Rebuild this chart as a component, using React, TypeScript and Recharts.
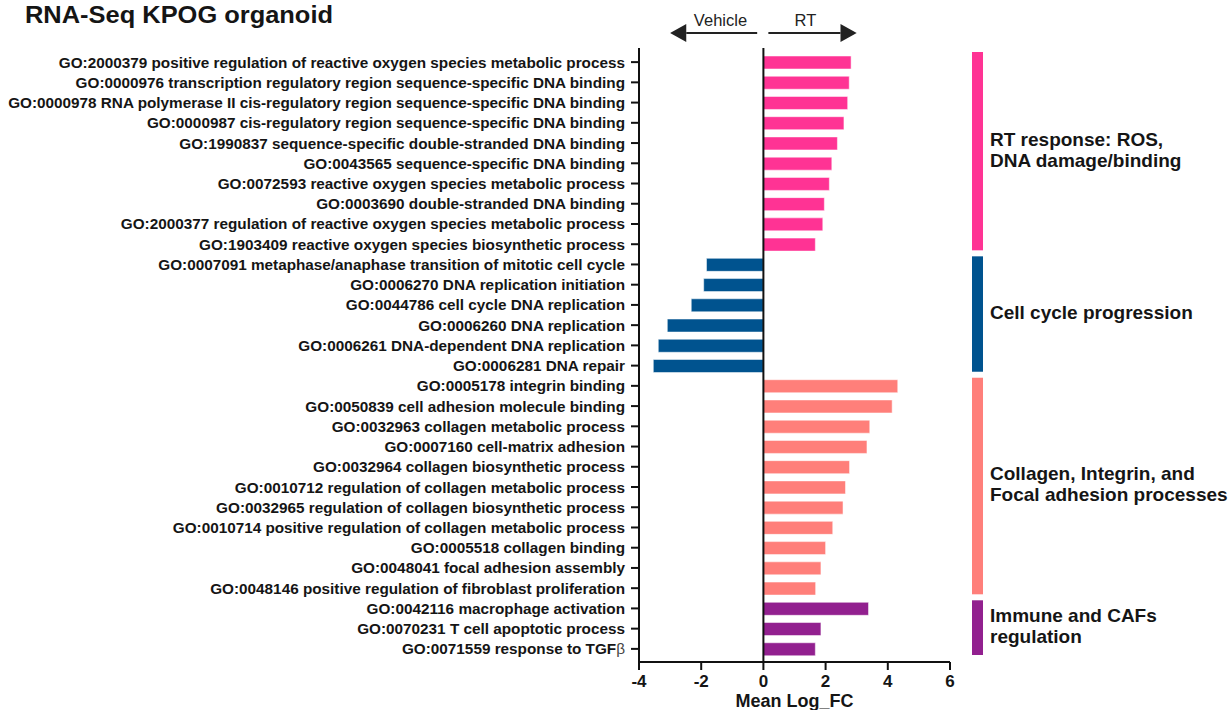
import React from "react";
import { BarChart, Bar, XAxis, YAxis, Cell, ReferenceLine } from "recharts";

const terms = [
  "GO:2000379 positive regulation of reactive oxygen species metabolic process",
  "GO:0000976 transcription regulatory region sequence-specific DNA binding",
  "GO:0000978 RNA polymerase II cis-regulatory region sequence-specific DNA binding",
  "GO:0000987 cis-regulatory region sequence-specific DNA binding",
  "GO:1990837 sequence-specific double-stranded DNA binding",
  "GO:0043565 sequence-specific DNA binding",
  "GO:0072593 reactive oxygen species metabolic process",
  "GO:0003690 double-stranded DNA binding",
  "GO:2000377 regulation of reactive oxygen species metabolic process",
  "GO:1903409 reactive oxygen species biosynthetic process",
  "GO:0007091 metaphase/anaphase transition of mitotic cell cycle",
  "GO:0006270 DNA replication initiation",
  "GO:0044786 cell cycle DNA replication",
  "GO:0006260 DNA replication",
  "GO:0006261 DNA-dependent DNA replication",
  "GO:0006281 DNA repair",
  "GO:0005178 integrin binding",
  "GO:0050839 cell adhesion molecule binding",
  "GO:0032963 collagen metabolic process",
  "GO:0007160 cell-matrix adhesion",
  "GO:0032964 collagen biosynthetic process",
  "GO:0010712 regulation of collagen metabolic process",
  "GO:0032965 regulation of collagen biosynthetic process",
  "GO:0010714 positive regulation of collagen metabolic process",
  "GO:0005518 collagen binding",
  "GO:0048041 focal adhesion assembly",
  "GO:0048146 positive regulation of fibroblast proliferation",
  "GO:0042116 macrophage activation",
  "GO:0070231 T cell apoptotic process",
  "GO:0071559 response to TGF\u03b2",
];

const meanLogFC = [
  2.82, 2.76, 2.71, 2.59, 2.38, 2.2, 2.12, 1.96, 1.91, 1.67,
  -1.83, -1.92, -2.32, -3.09, -3.38, -3.54,
  4.32, 4.14, 3.42, 3.33, 2.77, 2.64, 2.56, 2.23, 2.0, 1.85, 1.68,
  3.38, 1.85, 1.67,
];

// group index of each term
const termGroup = [
  0, 0, 0, 0, 0, 0, 0, 0, 0, 0,
  1, 1, 1, 1, 1, 1,
  2, 2, 2, 2, 2, 2, 2, 2, 2, 2, 2,
  3, 3, 3,
];

const groupLabels = [
  ["RT response: ROS,", "DNA damage/binding"],
  ["Cell cycle progression"],
  ["Collagen, Integrin, and", "Focal adhesion processes"],
  ["Immune and CAFs", "regulation"],
];
const groupColors = ["#FF3394", "#00538F", "#FF7F7A", "#92208F"];

const xTicks = [-4, -2, 0, 2, 4, 6];
const xDomain: [number, number] = [-4, 6];

const data = terms.map((term, i) => ({ term, value: meanLogFC[i], group: termGroup[i] }));

// layout
const W = 1228;
const H = 710;
const Y_AXIS_W = 639;
const X_AXIS_H = 48;
const MARGIN = { top: 48, right: 278, bottom: 0, left: 0 };
const PAD_T = 4;
const PAD_B = 3;
const FONT = "'Liberation Sans', Arial, Helvetica, sans-serif";

const plotLeft = MARGIN.left + Y_AXIS_W;
const plotRight = W - MARGIN.right;
const plotTop = MARGIN.top;
const plotBottom = H - MARGIN.bottom - X_AXIS_H;
const rowH = (plotBottom - plotTop - PAD_T - PAD_B) / terms.length;
const xPos = (v: number) => plotLeft + ((v - xDomain[0]) / (xDomain[1] - xDomain[0])) * (plotRight - plotLeft);

const YTick = ({ x, y, payload }: any) => {
  const s: string = payload.value;
  const beta = s.indexOf("\u03b2");
  return (
    <text x={x} y={y} dy="0.36em" textAnchor="end" fontSize={15.3} fontWeight={700} fill="#151515" fontFamily={FONT}>
      {beta >= 0 ? (
        <>
          {s.slice(0, beta)}
          <tspan fontWeight={400} fill="#444">{"\u03b2"}</tspan>
        </>
      ) : (
        s
      )}
    </text>
  );
};

function Overlay() {
  const arrowY = 33;
  const groups = groupLabels.map((lines, g) => {
    const first = termGroup.indexOf(g);
    const last = termGroup.lastIndexOf(g);
    const y0 = plotTop + PAD_T + first * rowH + (g === 0 ? 0 : 2);
    const y1 = plotTop + PAD_T + (last + 1) * rowH - 4;
    const mid = (y0 + y1) / 2;
    return (
      <g key={g}>
        <rect x={972} y={y0} width={11} height={y1 - y0} fill={groupColors[g]} />
        {lines.map((ln, k) => (
          <text
            key={k}
            x={990}
            y={mid - 2 + (k - (lines.length - 1) / 2) * 21}
            dy="0.36em"
            fontSize={19}
            fontWeight={700}
            fill="#151515"
            fontFamily={FONT}
          >
            {ln}
          </text>
        ))}
      </g>
    );
  });
  return (
    <svg width={W} height={H} style={{ position: "absolute", left: 0, top: 0, pointerEvents: "none" }}>
      <text x={25} y={23} fontSize={23} fontWeight={700} fill="#151515" fontFamily={FONT} textLength={308} lengthAdjust="spacingAndGlyphs">
        RNA-Seq KPOG organoid
      </text>
      {/* Vehicle / RT arrows */}
      <line x1={xPos(-0.2)} x2={xPos(-2.48)} y1={arrowY} y2={arrowY} stroke="#222" strokeWidth={2} />
      <polygon points={`${xPos(-3)},${arrowY} ${xPos(-2.48)},${arrowY - 9} ${xPos(-2.48)},${arrowY + 9}`} fill="#222" />
      <line x1={xPos(0.16)} x2={xPos(2.48)} y1={arrowY} y2={arrowY} stroke="#222" strokeWidth={2} />
      <polygon points={`${xPos(3)},${arrowY} ${xPos(2.48)},${arrowY - 9} ${xPos(2.48)},${arrowY + 9}`} fill="#222" />
      <text x={xPos(-1.38)} y={26} textAnchor="middle" fontSize={16.5} fill="#222" fontFamily={FONT}>
        Vehicle
      </text>
      <text x={xPos(1.35)} y={26} textAnchor="middle" fontSize={16.5} fill="#222" fontFamily={FONT}>
        RT
      </text>
      {groups}
    </svg>
  );
}

export default function App() {
  return (
    <div style={{ position: "absolute", left: 0, top: 0, width: W, height: H, background: "#fff" }}>
      <BarChart width={W} height={H} data={data} layout="vertical" margin={MARGIN} barSize={13}>
        <XAxis
          type="number"
          domain={xDomain}
          ticks={xTicks}
          height={X_AXIS_H}
          axisLine={{ stroke: "#111", strokeWidth: 2 }}
          tickLine={{ stroke: "#111", strokeWidth: 2 }}
          tickSize={8}
          tickMargin={5}
          tick={{ fill: "#151515", fontSize: 17, fontWeight: 700, fontFamily: FONT }}
          label={{
            value: "Mean Log_FC",
            position: "insideBottom",
            offset: 3,
            fill: "#151515",
            fontSize: 18,
            fontWeight: 700,
            fontFamily: FONT,
          }}
        />
        <YAxis
          type="category"
          dataKey="term"
          width={Y_AXIS_W}
          interval={0}
          padding={{ top: PAD_T, bottom: PAD_B }}
          axisLine={{ stroke: "#111", strokeWidth: 2 }}
          tickLine={{ stroke: "#111", strokeWidth: 2 }}
          tickSize={8}
          tickMargin={6}
          tick={<YTick />}
        />
        <ReferenceLine x={0} stroke="#111" strokeWidth={2} />
        <Bar dataKey="value" isAnimationActive={false} stroke="#ffffff" strokeOpacity={0.5} strokeWidth={1}>
          {data.map((d, i) => (
            <Cell key={i} fill={groupColors[d.group]} />
          ))}
        </Bar>
      </BarChart>
      <Overlay />
    </div>
  );
}
